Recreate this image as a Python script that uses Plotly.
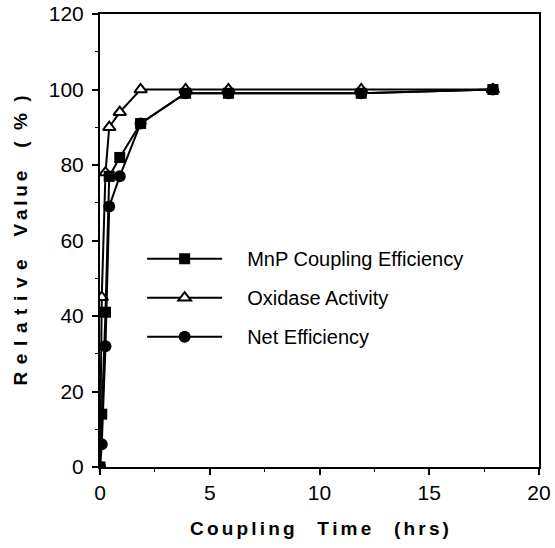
import plotly.graph_objects as go

time_hrs = [0, 0.08, 0.25, 0.42, 0.9, 1.85, 3.9, 5.85, 11.9, 17.9]
mnp_coupling = [0, 14, 41, 77, 82, 91, 99, 99, 99, 100]
oxidase_activity = [0, 45, 78, 90, 94, 100, 100, 100, 100, 100]
net_efficiency = [0, 6, 32, 69, 77, 91, 99, 99, 99, 100]

x_ticks = [0, 5, 10, 15, 20]
y_ticks = [0, 20, 40, 60, 80, 100, 120]

FONT = "Liberation Sans, Arial, Helvetica, sans-serif"
TH = "\u2009"   # thin space
HS = "\u200a"   # hair space
GAP = "\u2002\u2002\u2009"


def spaced(word, sep):
    return sep.join(list(word))


x_title = GAP.join([spaced("Coupling", HS + HS), spaced("Time", HS + HS), spaced("(hrs)", HS + HS)])
y_title = GAP.join([spaced("Relative", TH + TH), spaced("Value", TH), spaced("(%)", TH + TH + TH)])

PAD = "\u2002\u2002"

fig = go.Figure()
fig.add_trace(go.Scatter(
    x=time_hrs, y=net_efficiency, name=PAD + "Net Efficiency", legendgroup="c", legendrank=3,
    mode="lines+markers", line=dict(color="black", width=2),
    marker=dict(symbol="circle", size=12, color="black")))
fig.add_trace(go.Scatter(
    x=time_hrs, y=oxidase_activity, name=PAD + "Oxidase Activity", legendgroup="b", legendrank=2,
    mode="lines+markers", line=dict(color="black", width=2),
    marker=dict(symbol="triangle-up", size=11, color="white", line=dict(color="black", width=2))))
fig.add_trace(go.Scatter(
    x=time_hrs, y=mnp_coupling, name=PAD + "MnP Coupling Efficiency", legendgroup="a", legendrank=1,
    mode="lines+markers", line=dict(color="black", width=2),
    marker=dict(symbol="square", size=11, color="black")))

axis_common = dict(
    showline=True, linecolor="black", linewidth=2, mirror=True,
    ticks="outside", ticklen=6, tickwidth=2, tickcolor="black",
    showgrid=False, zeroline=False, automargin=False,
    ticklabeloverflow="allow",
    tickfont=dict(family=FONT, size=21, color="black"),
)
fig.update_xaxes(
    range=[0, 20], tickvals=x_ticks, ticktext=[str(v) for v in x_ticks],
    minor=dict(dtick=2.5, ticks="outside", ticklen=3, tickwidth=1, tickcolor="black"),
    ticklabelstandoff=0,
    title=dict(text="<b>" + x_title + "</b>", font=dict(family=FONT, size=19, color="black"), standoff=18),
    **axis_common)
fig.update_yaxes(
    range=[0, 120], tickvals=y_ticks, ticktext=[str(v) for v in y_ticks],
    minor=dict(dtick=10, ticks="outside", ticklen=3, tickwidth=1, tickcolor="black"),
    ticklabelstandoff=4,
    title=dict(text="<b>" + y_title + "</b>", font=dict(family=FONT, size=19, color="black"), standoff=16),
    **axis_common)

frame_axis = dict(showline=True, linecolor="black", linewidth=2, showgrid=False,
                  zeroline=False, showticklabels=False, ticks="", automargin=False)

fig.update_layout(
    width=555, height=548,
    margin=dict(l=100, r=16, t=14, b=81),
    paper_bgcolor="white", plot_bgcolor="white",
    showlegend=True,
    xaxis2=dict(overlaying="x", side="top", anchor="y", range=[0, 20], **frame_axis),
    yaxis2=dict(overlaying="y", side="right", anchor="x", range=[0, 120], **frame_axis),
    legend=dict(
        x=0.096, y=0.503, xanchor="left", yanchor="top",
        font=dict(family=FONT, size=20, color="black"),
        bgcolor="rgba(0,0,0,0)", itemwidth=75, tracegroupgap=10,
        traceorder="grouped",
    ),
)

fig.write_html("out.html", config={"displayModeBar": False},
               post_script="document.body.style.margin='0px';")
